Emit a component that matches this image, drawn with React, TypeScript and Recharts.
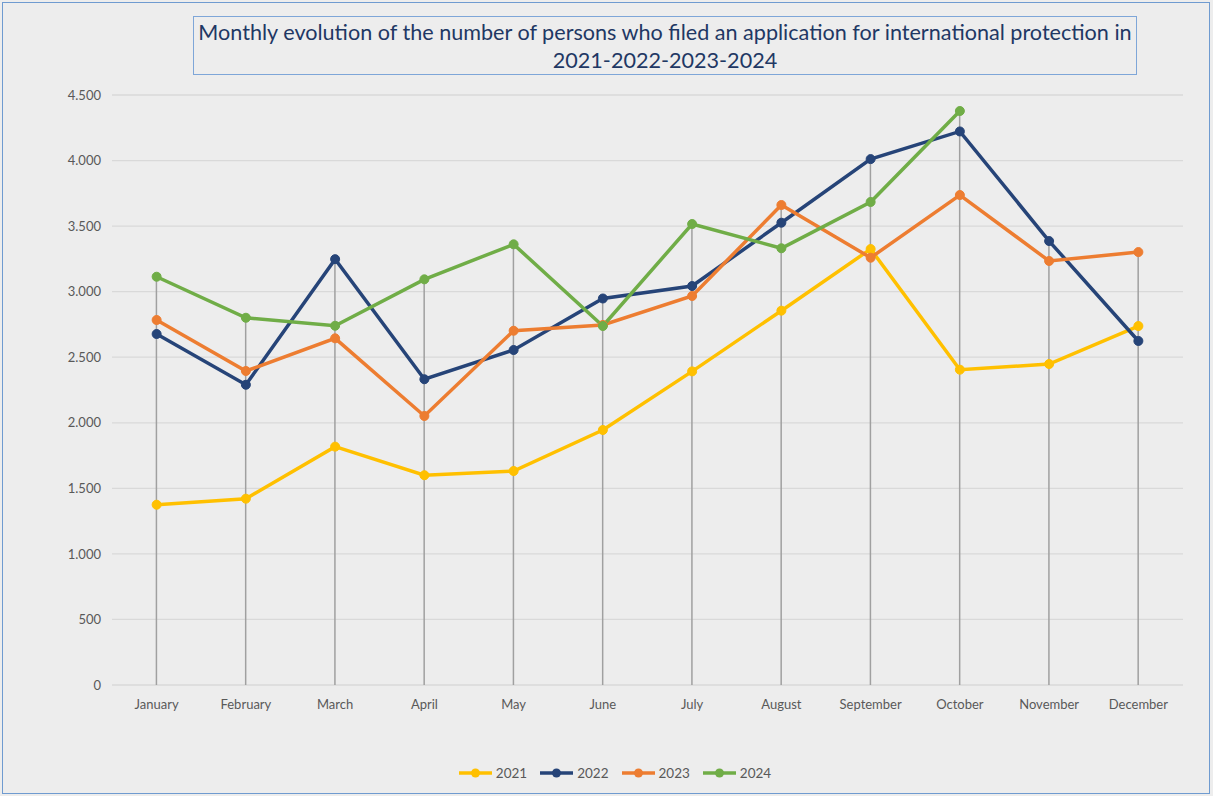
import React from 'react';
import { ComposedChart, Line, Bar, XAxis, YAxis, CartesianGrid, Legend } from 'recharts';

const months = ['January', 'February', 'March', 'April', 'May', 'June', 'July', 'August', 'September', 'October', 'November', 'December'];
const years = ['2021', '2022', '2023', '2024'];
const s2021 = [1375, 1421, 1818, 1600, 1632, 1945, 2392, 2855, 3325, 2405, 2448, 2738];
const s2022 = [2677, 2290, 3248, 2332, 2555, 2948, 3043, 3526, 4011, 4222, 3386, 2624];
const s2023 = [2784, 2395, 2644, 2052, 2702, 2746, 2967, 3661, 3259, 3737, 3234, 3302];
const s2024 = [3114, 2801, 2740, 3094, 3361, 2738, 3516, 3331, 3684, 4378, null, null];
const yTicks = [0, 500, 1000, 1500, 2000, 2500, 3000, 3500, 4000, 4500];
const colors = ['#FFC000', '#264478', '#ED7D31', '#70AD47'];

const seriesList = [s2021, s2022, s2023, s2024];

const data = months.map((m, i) => {
  const vals = seriesList.map((s) => s[i]).filter((v) => v !== null) as number[];
  return {
    month: m,
    y2021: s2021[i],
    y2022: s2022[i],
    y2023: s2023[i],
    y2024: s2024[i],
    max: Math.max(...vals),
  };
});

const fmt = (v: number) => v.toString().replace(/\B(?=(\d{3})+(?!\d))/g, '.');

const FONT = 'Lato, "Open Sans", sans-serif';

const DropLine = (props: any) => {
  const { x, y, width, height } = props;
  if (x == null || y == null) return null;
  const cx = x + width / 2;
  return <line x1={cx} y1={y} x2={cx} y2={y + height} stroke="#A0A0A0" strokeWidth={1.5} />;
};

const LegendContent = () => (
  <div style={{ display: 'flex', justifyContent: 'center', alignItems: 'center', height: 22, paddingLeft: 16, fontFamily: FONT, fontSize: 13.5, color: '#595959' }}>
    {years.map((y, i) => (
      <div key={y} style={{ display: 'flex', alignItems: 'center', marginRight: i < years.length - 1 ? 12 : 0 }}>
        <svg width={35} height={12} style={{ marginRight: 3 }}>
          <line x1={1} y1={6} x2={34} y2={6} stroke={colors[i]} strokeWidth={3.5} />
          <circle cx={17.5} cy={6} r={4.5} fill={colors[i]} />
        </svg>
        <span>{y}</span>
      </div>
    ))}
  </div>
);

export default function App() {
  return (
    <div style={{ position: 'absolute', left: 0, top: 0, width: 1213, height: 796, background: '#EDEDED', fontFamily: FONT }}>
      <div style={{ position: 'absolute', left: 2, top: 2, width: 1206, height: 790, border: '1px solid #6F9BD0' }} />
      <div
        style={{
          position: 'absolute',
          left: 193,
          top: 16,
          width: 944,
          height: 59,
          border: '1px solid #7EA6D8',
          color: '#1F3864',
          fontSize: 21.6,
          lineHeight: '28px',
          textAlign: 'center',
          paddingTop: 1,
          boxSizing: 'border-box',
        }}
      >
        Monthly evolution of the number of persons who filed an application for international protection in
        <br />
        2021-2022-2023-2024
      </div>
      <div style={{ position: 'absolute', left: 0, top: 0 }}>
        <ComposedChart width={1213} height={796} data={data} margin={{ top: 95, right: 30, left: 0, bottom: 59 }}>
          <CartesianGrid vertical={false} stroke="#D9D9D9" strokeWidth={1.3} />
          <XAxis
            dataKey="month"
            axisLine={false}
            tickLine={false}
            height={30}
            tickMargin={9}
            tick={{ fontSize: 13, fill: '#595959', fontFamily: FONT }}
            interval={0}
          />
          <YAxis
            width={112}
            domain={[0, 4500]}
            ticks={yTicks}
            axisLine={false}
            tickLine={false}
            tickMargin={5}
            tickFormatter={fmt}
            tick={{ fontSize: 13, fill: '#595959', fontFamily: FONT }}
          />
          <Legend
            content={<LegendContent />}
            verticalAlign="bottom"
            wrapperStyle={{ top: 762, bottom: 'auto', left: 0, width: 1213 }}
          />
          <Bar dataKey="max" shape={<DropLine />} isAnimationActive={false} legendType="none" />
          {years.map((y, i) => (
            <Line
              key={y}
              dataKey={`y${y}`}
              name={y}
              stroke={colors[i]}
              strokeWidth={3.5}
              dot={{ r: 4.5, fill: colors[i], stroke: colors[i], strokeWidth: 1 }}
              activeDot={false}
              isAnimationActive={false}
              connectNulls={false}
            />
          ))}
        </ComposedChart>
      </div>
    </div>
  );
}
